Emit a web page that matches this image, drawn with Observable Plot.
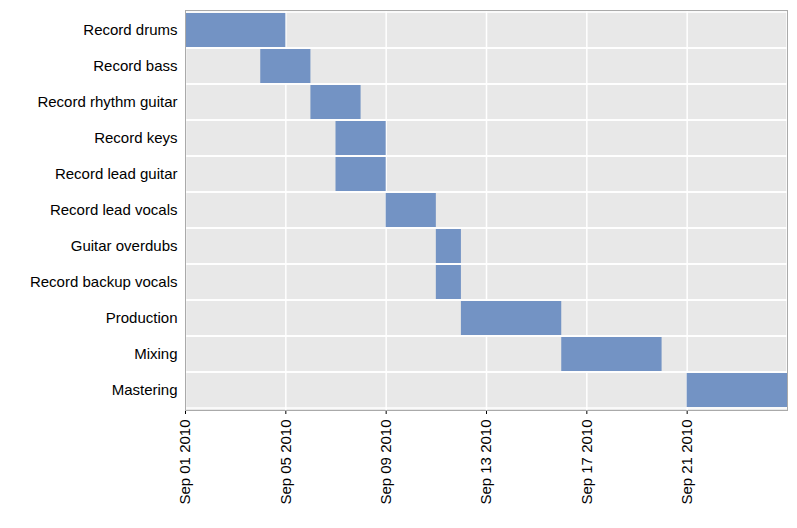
<!DOCTYPE html>
<html><head><meta charset="utf-8">
<script src="https://cdn.jsdelivr.net/npm/d3@7"></script>
<script src="https://cdn.jsdelivr.net/npm/@observablehq/plot@0.6"></script>
<style>body{margin:0;background:#fff}</style>
</head><body><div id="c"></div>
<script>
const tasks = ["Record drums","Record bass","Record rhythm guitar","Record keys","Record lead guitar","Record lead vocals","Guitar overdubs","Record backup vocals","Production","Mixing","Mastering"];
const starts = ["2010-09-01","2010-09-04","2010-09-06","2010-09-07","2010-09-07","2010-09-09","2010-09-11","2010-09-11","2010-09-12","2010-09-16","2010-09-21"];
const ends = ["2010-09-05","2010-09-06","2010-09-08","2010-09-09","2010-09-09","2010-09-11","2010-09-12","2010-09-12","2010-09-16","2010-09-20","2010-09-25"];
const tickDates = ["2010-09-01","2010-09-05","2010-09-09","2010-09-13","2010-09-17","2010-09-21"];
const data = tasks.map((t,i)=>({task:t,start:new Date(starts[i]),end:new Date(ends[i])}));
const d0 = new Date("2010-09-01"), d1 = new Date("2010-09-25");
const chart = Plot.plot({
  width:797, height:528, marginLeft:185, marginTop:10, marginRight:10, marginBottom:118,
  style:{fontFamily:"Liberation Sans, Arial, sans-serif", fontSize:"15px", color:"#000"},
  x:{type:"utc", domain:[d0,d1], ticks:tickDates.map(d=>new Date(d)), tickFormat:d3.utcFormat("%b %d %Y"), tickRotate:-90, label:null, tickSize:4},
  y:{domain:tasks, padding:0, label:null, tickSize:0, tickPadding:8},
  marks:[
    Plot.frame({fill:"#e8e8e8"}),
    Plot.gridX(tickDates.map(d=>new Date(d)), {stroke:"white", strokeOpacity:1, strokeWidth:1.5}),
    Plot.barX(data,{x1:()=>d0, x2:()=>d1, y:"task", fill:"none", stroke:"white", strokeWidth:1.5}),
    Plot.barX(data,{x1:"start", x2:"end", y:"task", fill:"#7393c4", insetTop:1, insetBottom:1}),
    Plot.frame({stroke:"#aaa"})
  ]
});
document.getElementById("c").appendChild(chart);
</script></body></html>
